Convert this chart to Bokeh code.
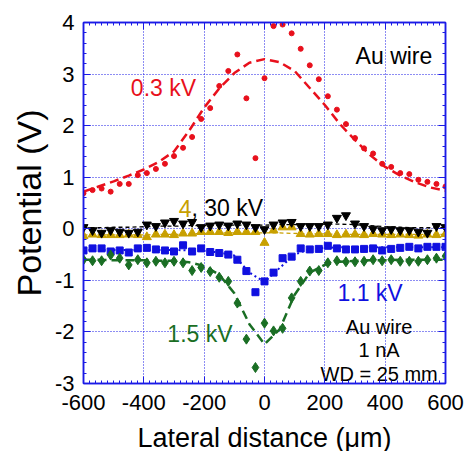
from bokeh.plotting import figure
from bokeh.models import LinearAxis, Range1d, FixedTicker
from bokeh.core.properties import value
from bokeh.embed import file_html
from bokeh.resources import INLINE

# ---- data ----
x_pts = [-600, -570, -540, -510, -480, -450, -420, -390, -360, -330, -300, -270, -240, -210,
         -180, -150, -120, -90, -60, -30, 0, 30, 60, 90, 120, 150, 180, 210, 240, 270, 300,
         330, 360, 390, 420, 450, 480, 510, 540, 570, 600]

v03 = [0.69, 0.75, 0.78, 0.72, 0.87, 0.87, 1.04, 1.08, 1.16, 1.26, 1.41, 1.57, 1.78, 2.13,
       2.34, 2.77, 3.06, 3.38, 2.53, 1.37, 2.92, 3.93, 3.96, 3.79, 3.49, 3.17, 2.90, 2.57,
       2.31, 2.03, 1.76, 1.56, 1.46, 1.26, 1.20, 1.08, 1.06, 0.95, 0.91, 0.87, 0.82]

v30 = [0.03, -0.03, -0.08, -0.03, -0.06, -0.08, -0.06, 0.08, 0.05, 0.12, 0.15, 0.10, 0.13,
       0.03, 0.06, 0.08, 0.06, 0.10, 0.08, 0.03, -0.01, 0.08, 0.12, 0.13, 0.05, 0.05, 0.05,
       0.08, 0.21, 0.26, 0.10, 0.05, 0.00, -0.03, -0.01, -0.03, -0.03, -0.06, -0.08, 0.05, 0.03]

v4 = [-0.14, -0.11, -0.12, -0.12, -0.12, -0.11, -0.12, -0.16, -0.11, -0.11, -0.12, -0.09,
      -0.09, -0.06, -0.06, -0.06, -0.08, -0.06, -0.06, -0.06, -0.27, -0.03, 0.03, 0.03,
      -0.10, -0.11, -0.10, -0.10, -0.12, -0.11, -0.11, -0.12, -0.10, -0.11, -0.12, -0.11,
      -0.12, -0.13, -0.11, -0.12, -0.10]

v11 = [-0.42, -0.38, -0.38, -0.44, -0.42, -0.46, -0.38, -0.37, -0.40, -0.42, -0.44, -0.32,
       -0.44, -0.38, -0.45, -0.47, -0.50, -0.60, -0.82, -1.23, -1.02, -0.85, -0.57, -0.54,
       -0.38, -0.40, -0.39, -0.33, -0.38, -0.40, -0.40, -0.39, -0.38, -0.42, -0.39, -0.37,
       -0.35, -0.38, -0.35, -0.35, -0.35]

v15 = [-0.60, -0.62, -0.62, -0.51, -0.57, -0.70, -0.60, -0.66, -0.63, -0.66, -0.63, -0.66,
       -0.81, -0.75, -0.83, -0.94, -1.02, -1.44, -2.14, -2.69, -1.83, -1.98, -1.93, -1.34,
       -1.02, -0.82, -0.81, -0.66, -0.62, -0.64, -0.64, -0.63, -0.60, -0.62, -0.60, -0.63,
       -0.63, -0.63, -0.60, -0.57, -0.53]

# fitted curves (read at 50 um steps)
x_fit = [-600, -550, -500, -450, -400, -350, -300, -250, -200, -150, -100, -50, 0,
         50, 100, 150, 200, 250, 300, 350, 400, 450, 500, 550, 600]
fit03 = [0.72, 0.82, 0.92, 1.03, 1.15, 1.30, 1.50, 1.90, 2.35, 2.72, 3.02, 3.22, 3.29,
         3.23, 3.06, 2.73, 2.40, 2.03, 1.72, 1.43, 1.20, 1.03, 0.90, 0.80, 0.74]
fit30 = [0.02, 0.02, 0.03, 0.03, 0.04, 0.05, 0.05, 0.06, 0.06, 0.07, 0.07, 0.07, 0.07,
         0.08, 0.08, 0.08, 0.09, 0.09, 0.08, 0.06, 0.04, 0.03, 0.02, 0.02, 0.02]
fit4 = [-0.12, -0.12, -0.12, -0.12, -0.12, -0.11, -0.11, -0.10, -0.09, -0.08, -0.08, -0.08,
        -0.08, -0.08, -0.09, -0.10, -0.10, -0.11, -0.11, -0.11, -0.11, -0.11, -0.11, -0.11, -0.11]
fit11 = [-0.41, -0.41, -0.41, -0.41, -0.41, -0.41, -0.41, -0.42, -0.43, -0.46, -0.52, -0.85,
         -1.03, -0.76, -0.50, -0.39, -0.37, -0.36, -0.36, -0.36, -0.36, -0.36, -0.36, -0.36, -0.36]
fit15 = [-0.60, -0.60, -0.61, -0.61, -0.61, -0.62, -0.62, -0.65, -0.72, -0.89, -1.25, -1.85,
         -2.24, -1.95, -1.28, -0.85, -0.70, -0.64, -0.62, -0.61, -0.61, -0.60, -0.60, -0.60, -0.60]

x_ticks = [-600, -400, -200, 0, 200, 400, 600]
x_tick_labels = ["-600", "-400", "-200", "0", "200", "400", "600"]
y_ticks = [-3, -2, -1, 0, 1, 2, 3, 4]
y_tick_labels = ["-3", "-2", "-1", "0", "1", "2", "3", "4"]

RED = "#e8101c"
BLUE = "#1010e0"
GREEN = "#1a6e24"
GOLD = "#c8a000"
BLACK = "#000000"
AXC = "#1a1ae6"
FONT = "Liberation Sans"

p = figure(frame_width=362, frame_height=361,
           x_range=Range1d(-600, 600), y_range=Range1d(-3, 4),
           output_backend="svg", toolbar_location=None,
           min_border_left=83, min_border_right=22, min_border_top=22, min_border_bottom=68)
p.background_fill_color = "white"
p.border_fill_color = "white"
p.outline_line_color = AXC
p.outline_line_width = 1.5

# extra axes for mirrored ticks
right_ax = LinearAxis()
top_ax = LinearAxis()
p.add_layout(right_ax, "right")
p.add_layout(top_ax, "above")

bottom_ax = p.below[0]
left_ax = p.left[0]

for ax in (bottom_ax, top_ax):
    ax.ticker = FixedTicker(ticks=x_ticks, minor_ticks=list(range(-600, 601, 20)))
for ax in (left_ax, right_ax):
    ax.ticker = FixedTicker(ticks=y_ticks, minor_ticks=[t / 5 for t in range(-15, 21)])

for ax in (bottom_ax, top_ax, left_ax, right_ax):
    ax.axis_line_color = AXC
    ax.axis_line_width = 1.5
    ax.major_tick_line_color = AXC
    ax.minor_tick_line_color = AXC
    ax.major_tick_in = 7
    ax.major_tick_out = 0
    ax.minor_tick_in = 3
    ax.minor_tick_out = 0
    ax.major_label_text_font = FONT
    ax.major_label_text_font_size = "22px"
    ax.major_label_text_color = "black"
    ax.axis_label_text_font = FONT
    ax.axis_label_text_font_style = "normal"
    ax.axis_label_text_color = "black"

bottom_ax.major_label_overrides = dict(zip(x_ticks, x_tick_labels))
left_ax.major_label_overrides = dict(zip(y_ticks, y_tick_labels))
top_ax.major_label_overrides = {t: "" for t in x_ticks}
right_ax.major_label_overrides = {t: "" for t in y_ticks}
top_ax.major_label_standoff = 0
right_ax.major_label_standoff = 0

bottom_ax.major_label_standoff = 11
left_ax.major_label_standoff = 9
bottom_ax.axis_label = "Lateral distance (μm)"
bottom_ax.axis_label_text_font_size = "27px"
bottom_ax.axis_label_standoff = 10
left_ax.axis_label = "Potential (V)"
left_ax.axis_label_text_font_size = "34px"
left_ax.axis_label_standoff = 4

p.xgrid.grid_line_color = AXC
p.ygrid.grid_line_color = AXC
p.xgrid.grid_line_dash = "1 2"
p.ygrid.grid_line_dash = "1 2"
p.xgrid.grid_line_width = 1
p.ygrid.grid_line_width = 1
p.xgrid.ticker = FixedTicker(ticks=x_ticks)
p.ygrid.ticker = FixedTicker(ticks=y_ticks)

# fit lines
p.line(x_fit, fit30, line_color=BLACK, line_width=1.3, line_dash="4 3")
p.line(x_fit, fit4, line_color=GOLD, line_width=1.3, line_dash="4 3")
p.line(x_fit, fit03, line_color=RED, line_width=2.5, line_dash="9 5")
p.line(x_fit, fit11, line_color=BLUE, line_width=2, line_dash="2 3")
p.line(x_fit, fit15, line_color=GREEN, line_width=2.5, line_dash="9 5")

# points
p.scatter(x_pts, v03, marker="circle", size=5, fill_color=RED, line_color=RED)
p.scatter(x_pts, v4, marker="triangle", size=9, fill_color=GOLD, line_color=GOLD)
p.scatter(x_pts, v30, marker="inverted_triangle", size=9, fill_color=BLACK, line_color=BLACK)
p.scatter(x_pts, v11, marker="square", size=7, fill_color=BLUE, line_color=BLUE)
p.scatter(x_pts, v15, marker="diamond", size=10, fill_color=GREEN, line_color=GREEN)

# annotations
def txt(x, y, s, color, size, align="left"):
    p.text(x=[x], y=[y], text=[s], text_color=color, text_font=value(FONT),
           text_font_size=size, text_align=align, text_baseline="alphabetic")

txt(-443, 2.735, "0.3 kV", RED, "23px")
txt(302, 3.36, "Au wire", BLACK, "23px")
txt(-284, 0.40, "4", GOLD, "23px")
txt(-242, 0.40, ", 30 kV", BLACK, "23px")
txt(242, -1.253, "1.1 kV", BLUE, "23px")
txt(-322, -2.031, "1.5 kV", GREEN, "23px")
txt(380, -1.895, "Au wire", BLACK, "20px", "center")
txt(380, -2.342, "1 nA", BLACK, "20px", "center")
txt(380, -2.809, "WD = 25 mm", BLACK, "20px", "center")

open("out.html", "w").write(file_html(p, INLINE))
